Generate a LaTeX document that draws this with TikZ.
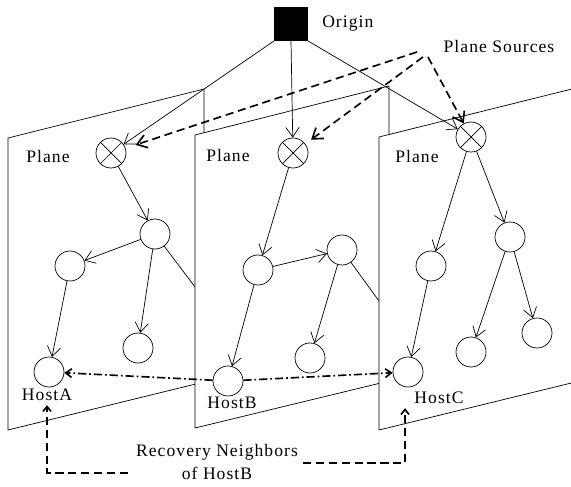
\documentclass[tikz,border=0pt]{standalone}
\usepackage{fontspec}
\setmainfont[LetterSpace=6]{Liberation Serif}
\usetikzlibrary{arrows.meta}

\begin{document}
\begin{tikzpicture}[x=0.03cm, y=-0.03cm, line width=0.6pt,
  font=\fontsize{15}{19}\selectfont,
  host/.style={draw, circle, minimum size=0.9cm, inner sep=0pt},
  source/.style={host, path picture={
    \draw (path picture bounding box.north west) -- (path picture bounding box.south east);
    \draw (path picture bounding box.north east) -- (path picture bounding box.south west);}},
  plane/.style={draw, fill=white},
  edge/.style={-{Straight Barb[length=2.9mm, width=4mm]}},
  pointer/.style={line width=1.4pt, dash pattern=on 7pt off 4pt, -{Straight Barb[length=2.9mm, width=4mm]}},
  recover/.style={line width=1.4pt, dash pattern=on 7pt off 2.5pt on 1.5pt off 2.5pt, -{Straight Barb[length=1.8mm, width=2.6mm]}},
  backref/.style={line width=1.4pt, dash pattern=on 7pt off 4pt, -{Straight Barb[length=1.5mm, width=2.4mm]}}]
\clip (0,0) rectangle (571,487);

% first plane
\draw[plane] (8,138) -- (204,89) -- (204,382) -- (8,430) -- cycle;
\node at (48,156) {Plane};
\node[source] (s1) at (111,153) {};
\node[host] (p1a) at (155,234) {};
\node[host] (p1b) at (70,266) {};
\node[host] (p1c) at (138,348) {};
\node[host] (hostA) at (49,372) {};
\draw[edge] (s1) -- (p1a);
\draw[edge] (p1a) -- (p1b);
\draw[edge] (p1a) -- (p1c);
\draw[edge] (p1b) -- (hostA);
\coordinate (p1out) at (220,320);
\draw (p1a) -- (p1out);

% second plane
\draw[plane] (195,135) -- (389,86) -- (389,381) -- (195,428) -- cycle;
\node at (228,155) {Plane};
\node[source] (s2) at (293,153) {};
\node[host] (p2a) at (258,270) {};
\node[host] (p2b) at (342,250) {};
\node[host] (p2c) at (310,358) {};
\node[host] (hostB) at (228,381) {};
\draw[edge] (s2) -- (p2a);
\draw[edge] (p2a) -- (p2b);
\draw[edge] (p2b) -- (p2c);
\draw[edge] (p2a) -- (hostB);
\coordinate (p2out) at (400,330);
\draw (p2b) -- (p2out);

% third plane
\draw[plane] (379,137) -- (600,82) -- (600,376) -- (379,430) -- cycle;
\node at (417,156) {Plane};
\node[source] (s3) at (471,137) {};
\node[host] (p3a) at (431,266) {};
\node[host] (p3b) at (510,237) {};
\node[host] (p3c) at (471,352) {};
\node[host] (p3d) at (537,333) {};
\node[host] (hostC) at (408,372) {};
\draw[edge] (s3) -- (p3a);
\draw[edge] (s3) -- (p3b);
\draw[edge] (p3a) -- (hostC);
\draw[edge] (p3b) -- (p3c);
\draw[edge] (p3b) -- (p3d);

% origin
\node[draw, fill=black, minimum size=0.99cm, inner sep=0pt] (origin) at (291,24) {};
\node[anchor=west] (originlabel) at (318,24) {Origin};
\draw[edge] (origin.south west) -- (s1);
\draw[edge] (origin.south) -- (s2);
\draw[edge] (origin.south east) -- (s3);

% plane sources
\node (sources) at (499,46) {Plane Sources};
\coordinate (ps1) at (417,52);
\coordinate (ps2) at (423,57);
\coordinate (ps3) at (428,57);
\draw[pointer, shorten >=9pt] (ps1) -- (s1);
\draw[pointer, shorten >=6pt] (ps2) -- (s2);
\draw[pointer, shorten >=0pt] (ps3) -- (s3);

% hosts and recovery
\node (labA) at (47,395) {HostA};
\node (labB) at (232,403) {HostB};
\node (labC) at (439,398) {HostC};
\draw[recover] (hostB) -- (hostA);
\draw[recover] (hostB) -- (hostC);
\node[align=center] (recovery) at (217,462) {Recovery Neighbors\\of HostB};
\coordinate (rleft) at (128,473);
\coordinate (rright) at (303,463);
\draw[backref] (rleft) -| (labA.south);
\draw[backref] (rright) -| ([xshift=-29pt]labC.south);
\end{tikzpicture}
\end{document}
